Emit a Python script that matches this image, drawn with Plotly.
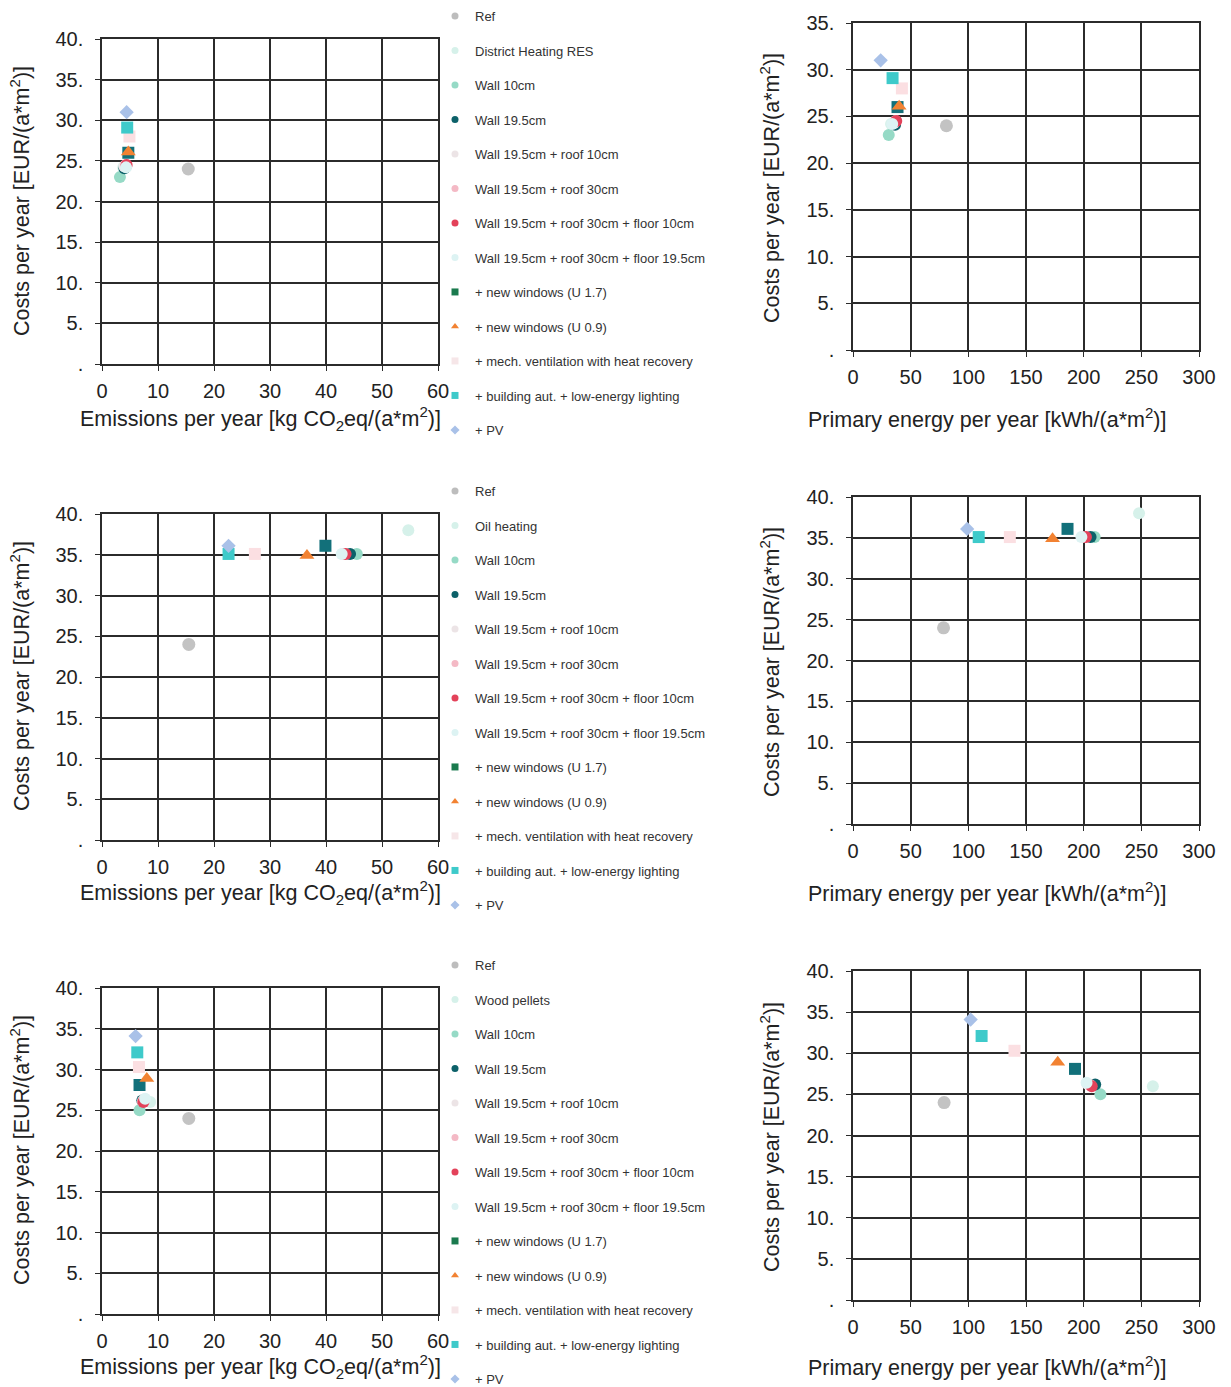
import plotly.graph_objects as go

W, H = 1231, 1387

# ---------------- data ----------------
common_names = ["Ref", None, "Wall 10cm", "Wall 19.5cm", "Wall 19.5cm + roof 10cm",
                "Wall 19.5cm + roof 30cm", "Wall 19.5cm + roof 30cm + floor 10cm",
                "Wall 19.5cm + roof 30cm + floor 19.5cm", "+ new windows (U 1.7)",
                "+ new windows (U 0.9)", "+ mech. ventilation with heat recovery",
                "+ building aut. + low-energy lighting", "+ PV"]
heating_names = ["District Heating RES", "Oil heating", "Wood pellets"]

colors = ["#c3c3c3", "#d6f1ea", "#96dac6", "#0c6169", "#ede3e6", "#f4b9c5", "#e3425a",
          "#ddf3f3", "#12707a", "#f28232", "#fbdfe2", "#3ecaca", "#a9c1e8"]
symbols = ["circle", "circle", "circle", "circle", "circle", "circle", "circle",
           "circle", "square", "triangle-up", "square", "square", "diamond"]
sizes = [13, 12, 12, 12, 12, 12, 12, 12, 12, 13, 12, 12, 11]
legend_colors = ["#bdbdbd", "#d6f1ea", "#96dac6", "#0c6169", "#ece4e6", "#f4b9c5", "#e3425a",
                 "#ddf3f3", "#1a7a4e", "#f28232", "#f6e6e8", "#3ecaca", "#a9c1e8"]

# Row 1: District heating RES
dh_emissions = [15.4, 3.8, 3.2, 4.0, 4.0, 4.3, 4.4, 4.3, 4.7, 4.7, 4.9, 4.5, 4.4]
dh_primary = [81, 33, 31, 36.5, 35.5, 37, 37.5, 34, 38.6, 40, 42.4, 34.3, 24]
dh_costs = [24, 24.2, 23, 24.1, 24.3, 24.5, 24.5, 24.2, 26, 26.1, 28, 29.1, 31]

# Row 2: Oil heating
oil_emissions = [15.5, 54.7, 45.5, 44.3, 43.0, 43.3, 43.5, 42.8, 39.9, 36.6, 27.3, 22.6, 22.6]
oil_primary = [78.5, 248, 209.5, 206, 199, 201, 202, 198, 186, 173, 136, 109, 99]
oil_costs = [24, 38, 35.1, 35.1, 35.1, 35.1, 35.1, 35.1, 36.1, 34.9, 35.1, 35.1, 36.1]

# Row 3: Wood pellets
wood_emissions = [15.5, 8.6, 6.7, 7.2, 7.5, 7.3, 7.4, 7.7, 6.7, 8.0, 6.6, 6.3, 6.0]
wood_primary = [79, 260, 214.5, 210, 203, 206, 207, 202.5, 192.5, 177.5, 140, 111.5, 102]
wood_costs = [24, 26, 25, 26.2, 26.3, 26.1, 26, 26.4, 28.1, 28.9, 30.3, 32.1, 34.1]

emis_ticks = [0, 10, 20, 30, 40, 50, 60]
energy_ticks = [0, 50, 100, 150, 200, 250, 300]
cost_ticks = [0, 5, 10, 15, 20, 25, 30, 35, 40]
cost_ticktext = [".", "5.", "10.", "15.", "20.", "25.", "30.", "35.", "40."]

x_title_left = "Emissions per year [kg CO<sub>2</sub>eq/(a*m<sup>2</sup>)]"
x_title_right = "Primary energy per year [kWh/(a*m<sup>2</sup>)]"
y_title = "Costs per year [EUR/(a*m<sup>2</sup>)]"

rows = [
    (dh_emissions, dh_primary, dh_costs, heating_names[0], 35),
    (oil_emissions, oil_primary, oil_costs, heating_names[1], 40),
    (wood_emissions, wood_primary, wood_costs, heating_names[2], 40),
]

# ---------------- layout geometry (pixels) ----------------
def px_x(p):
    return p / W

def px_y(p):
    return 1 - p / H

left_x = [102, 438]
right_x = [853, 1199]
left_y = [(39, 364), (514, 840), (988, 1314)]
right_y = [(23, 350), (497, 824), (971, 1300)]
legend_top = [1, 476, 950]
row_title_y = [418, 892, 1366]
left_ytitle_c = [201, 676, 1150]
right_ytitle_c = [188, 662, 1137]

FONT = "Liberation Sans, Arial, sans-serif"
GRID = "#2b2b2b"
TXT = "#222"

fig = go.Figure()
layout = dict(
    width=W, height=H,
    margin=dict(l=0, r=0, t=0, b=0, autoexpand=False),
    paper_bgcolor="white", plot_bgcolor="white",
    font=dict(family=FONT, color=TXT),
    showlegend=True,
    annotations=[],
)

def axis_common(rng, tickvals, ticktext=None):
    d = dict(range=rng, tickvals=tickvals, showgrid=True, gridcolor=GRID, gridwidth=1.5,
             showline=True, linecolor=GRID, linewidth=1.5, mirror=True, zeroline=False,
             ticks="outside", ticklen=5, tickcolor=GRID, tickwidth=1.2, automargin=False,
             tickfont=dict(family=FONT, size=20, color=TXT), fixedrange=True)
    if ticktext is not None:
        d["ticktext"] = ticktext
    return d

ax = 0
for r, (emis, prim, costs, hname, ymax) in enumerate(rows):
    legname = "legend" if r == 0 else f"legend{r + 1}"
    names = [hname if n is None else n for n in common_names]
    for side, xs in enumerate([emis, prim]):
        ax += 1
        xa = "x" if ax == 1 else f"x{ax}"
        ya = "y" if ax == 1 else f"y{ax}"
        xk = "xaxis" if ax == 1 else f"xaxis{ax}"
        yk = "yaxis" if ax == 1 else f"yaxis{ax}"
        if side == 0:
            xd = left_x
            yd = left_y[r]
            xr = [0, 60]
            xt = emis_ticks
            yr = [0, 40]
        else:
            xd = right_x
            yd = right_y[r]
            xr = [0, 300]
            xt = energy_ticks
            yr = [0, ymax]
        xaxis = axis_common(xr, xt)
        xaxis.update(domain=[px_x(xd[0]), px_x(xd[1])], anchor=ya, ticklabelstandoff=3)
        ytv = [v for v in cost_ticks if v <= yr[1]]
        ytt = [cost_ticktext[cost_ticks.index(v)] for v in ytv]
        yaxis = axis_common(yr, ytv, ytt)
        yaxis.update(domain=[px_y(yd[1]), px_y(yd[0])], anchor=xa, ticklabelstandoff=8)
        layout[xk] = xaxis
        layout[yk] = yaxis
        for i in range(len(names)):
            fig.add_trace(go.Scatter(
                x=[xs[i]], y=[costs[i]], mode="markers", xaxis=xa, yaxis=ya,
                name=names[i], showlegend=False, hoverinfo="name+x+y",
                marker=dict(symbol=symbols[i], size=sizes[i], color=colors[i],
                            line=dict(width=0)),
            ))
        # y title
        yc = left_ytitle_c[r] if side == 0 else right_ytitle_c[r]
        xtx = 20 if side == 0 else 770
        layout["annotations"].append(dict(
            text=y_title, x=px_x(xtx), y=px_y(yc), xref="paper", yref="paper",
            textangle=-90, showarrow=False, xanchor="center", yanchor="middle",
            font=dict(family=FONT, size=21.5, color=TXT)))
        # x title
        xtc = 260 if side == 0 else 987
        layout["annotations"].append(dict(
            text=x_title_left if side == 0 else x_title_right,
            x=px_x(xtc), y=px_y(row_title_y[r]), xref="paper", yref="paper",
            showarrow=False, xanchor="center", yanchor="middle",
            font=dict(family=FONT, size=21.5, color=TXT)))
    # legend entries for this row
    for i in range(len(names)):
        fig.add_trace(go.Scatter(
            x=[None], y=[None], mode="markers", xaxis="x", yaxis="y",
            name=names[i], legend=legname, legendgroup=f"r{r}_{i}", showlegend=True,
            marker=dict(symbol=symbols[i], size=7, color=legend_colors[i], line=dict(width=0)),
        ))
    layout[legname] = dict(
        x=px_x(435), y=px_y(legend_top[r]), xanchor="left", yanchor="top",
        bgcolor="rgba(0,0,0,0)", borderwidth=0, traceorder="grouped",
        tracegroupgap=14.6, itemsizing="trace",
        font=dict(family=FONT, size=13, color="#333"),
    )

fig.update_layout(**layout)
fig.write_html("out.html", config={"displayModeBar": False},
               post_script="document.body.style.margin='0px';document.body.style.overflow='hidden';")
